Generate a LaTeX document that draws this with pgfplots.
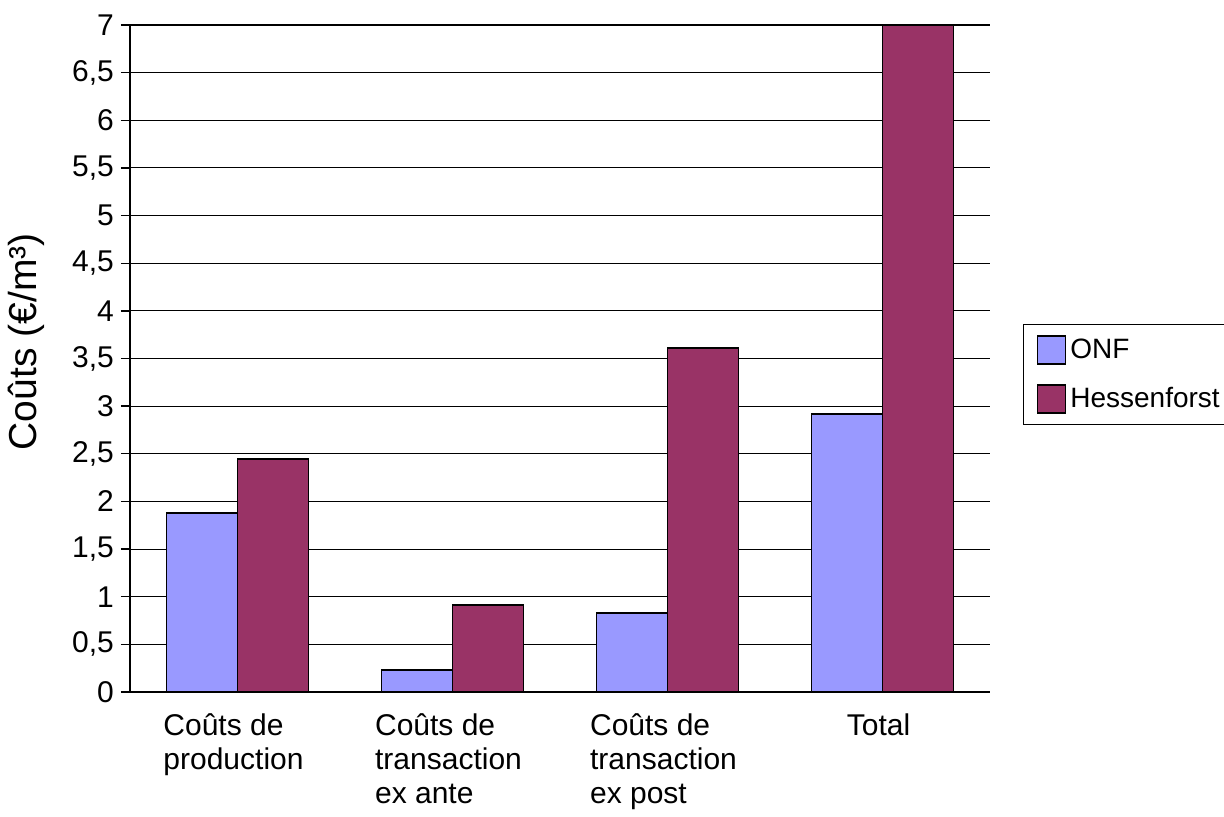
\documentclass[border=0pt]{standalone}
\usepackage{fontspec}
\setmainfont{Liberation Sans}
\usepackage{pgfplots}
\pgfplotsset{compat=1.18}
\definecolor{onf}{HTML}{9999FF}
\definecolor{hess}{HTML}{993366}
\begin{document}
\begin{tikzpicture}
\useasboundingbox (0,0) rectangle (612pt,408pt);
\begin{axis}[
  at={(65pt,62pt)}, anchor=south west,
  scale only axis, width=430pt, height=333.5pt,
  ybar=0pt, bar width=35.5pt,
  xmin=-0.5, xmax=3.5, ymin=0, ymax=7,
  axis x line*=bottom, axis y line*=left,
  axis line style={line width=0.9pt},
  xtick={0,1,2,3},
  xticklabels={{Coûts de\\production},{Coûts de\\transaction\\ex ante},{Coûts de\\transaction\\ex post},{Total}},
  xticklabel style={align=left, anchor=north, font=\fontsize{15}{16.8}\selectfont, yshift=-3pt, xshift=-2pt},
  x tick style={draw=none},
  extra x ticks={-0.5,0.5,1.5,2.5},
  extra x tick labels={},
  extra x tick style={tick style={draw=black, line width=0.7pt}, major tick length=4.5pt, tick align=outside, grid=none},
  ytick={0,0.5,...,7},
  tick align=outside,
  major tick length=4.5pt,
  y tick style={black, line width=0.7pt},
  yticklabel style={font=\fontsize{15}{16.5}\selectfont, /pgf/number format/.cd, fixed, use comma, 1000 sep={}, assume math mode=true},
  ymajorgrids,
  grid style={black, line width=0.55pt},
  ylabel={Coûts (€/m³)},
  ylabel style={at={(axis description cs:-0.12,0.525)}, anchor=center, font=\fontsize{19.5}{22}\selectfont},
  legend style={at={(axis description cs:1.0384,0.5517)}, anchor=north west, draw=black, line width=0.7pt,
    font=\fontsize{14}{16}\selectfont, row sep=9pt, inner xsep=6.5pt, inner ysep=5pt,
    legend cell align=left, nodes={inner xsep=2pt}},
  legend image code/.code={\draw[#1, line width=0.8pt] (0pt,-7pt) rectangle (14pt,7pt);},
]
\addplot[fill=onf, draw=black, line width=0.8pt] coordinates {(0,1.88) (1,0.23) (2,0.83) (3,2.92)};
\addplot[fill=hess, draw=black, line width=0.8pt] coordinates {(0,2.445) (1,0.915) (2,3.61) (3,7.0)};
\legend{ONF,Hessenforst}
\end{axis}
\end{tikzpicture}
\end{document}
